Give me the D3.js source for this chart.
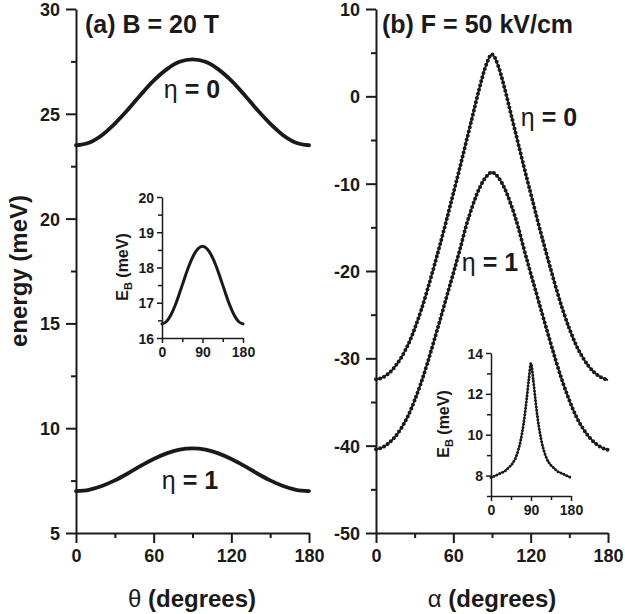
<!DOCTYPE html>
<html>
<head>
<meta charset="utf-8">
<script src="https://cdn.jsdelivr.net/npm/d3@7"></script>
<style>
  html, body { margin: 0; padding: 0; background: #fff; }
  svg { display: block; }
  text { font-family: "Liberation Sans", Arial, sans-serif; fill: #1a1a1a; }
</style>
</head>
<body>
<svg id="chart" width="625" height="614"></svg>
<script>
// ---------------- data ----------------
// Panel (a): B = 20 T, energy vs theta
const anglesA = [0,10,20,30,40,50,60,70,80,90,100,110,120,130,140,150,160,170,180];
const aEta0 = [23.5,23.62,23.98,24.53,25.19,25.91,26.58,27.12,27.48,27.6,27.48,27.12,26.58,25.91,25.19,24.53,23.98,23.62,23.5];
const aEta1 = [7.0,7.06,7.24,7.51,7.84,8.2,8.53,8.8,8.98,9.04,8.98,8.8,8.53,8.2,7.84,7.51,7.24,7.06,7.0];
const aInsetEB = [16.4,16.47,16.66,16.95,17.31,17.69,18.05,18.34,18.53,18.6,18.53,18.34,18.05,17.69,17.31,16.95,16.66,16.47,16.4];

// Panel (b): F = 50 kV/cm, energy vs alpha
const anglesB = [0,5,10,15,20,25,30,35,40,45,50,55,60,65,70,75,80,85,90,95,100,105,110,115,120,125,130,135,140,145,150,155,160,165,170,175,180];
const bEta0 = [-32.4,-32.2,-31.7,-30.9,-29.8,-28.4,-26.6,-24.5,-22.1,-19.5,-16.8,-14.0,-11.1,-8.2,-5.2,-2.2,0.8,3.4,4.8,
               3.4,0.8,-2.2,-5.2,-8.2,-11.1,-14.0,-16.8,-19.5,-22.1,-24.5,-26.6,-28.4,-29.8,-30.9,-31.7,-32.2,-32.5];
const bEta1 = [-40.4,-40.2,-39.7,-38.95,-37.9,-36.55,-34.8,-32.8,-30.5,-28.0,-25.45,-22.85,-20.25,-17.6,-14.8,-12.5,-10.6,-9.3,-8.7,
               -9.3,-10.6,-12.5,-14.8,-17.6,-20.25,-22.85,-25.45,-28.0,-30.5,-32.8,-34.8,-36.55,-37.9,-38.95,-39.7,-40.2,-40.5];
const bInsetEB = [7.9,7.95,8.0,8.05,8.1,8.15,8.2,8.3,8.4,8.5,8.65,8.85,9.15,9.55,10.1,10.8,11.7,12.7,13.5,
                  12.7,11.7,10.8,10.1,9.55,9.15,8.85,8.65,8.5,8.4,8.3,8.2,8.15,8.1,8.05,8.0,7.95,7.9];

// tick values
const xMajor = [0,60,120,180], xMinor = [30,90,150];
const yMajorA = [5,10,15,20,25,30], yMinorA = [7.5,12.5,17.5,22.5,27.5];
const yMajorB = [-50,-40,-30,-20,-10,0,10], yMinorB = [-45,-35,-25,-15,-5,5];
const insetXMajor = [0,90,180], insetXMinor = [45,135];
const insetAYMajor = [16,17,18,19,20], insetAYMinor = [16.5,17.5,18.5,19.5];
const insetBYMajor = [8,10,12,14], insetBYMinor = [7,9,11,13];

// ---------------- drawing ----------------
const svg = d3.select("#chart");
const INK = "#1a1a1a";

const xA = d3.scaleLinear().domain([0,180]).range([76,309]);
const yA = d3.scaleLinear().domain([5,30]).range([533,9]);
const xB = d3.scaleLinear().domain([0,180]).range([376,608]);
const yB = d3.scaleLinear().domain([-50,10]).range([533,9]);
const xIA = d3.scaleLinear().domain([0,180]).range([162,243]);
const yIA = d3.scaleLinear().domain([16,20]).range([338,197]);
const xIB = d3.scaleLinear().domain([0,180]).range([491,571]);
const yIB = d3.scaleLinear().domain([7,14]).range([496,353]);

const fmt = d => String(d);   // plain hyphen-minus like the original

function styleAxis(g, fontSize, width) {
  g.select(".domain").attr("stroke", INK).attr("stroke-width", width);
  g.selectAll(".tick line").attr("stroke", INK).attr("stroke-width", width);
  g.selectAll(".tick text").attr("fill", INK)
    .style("font-family", '"Liberation Sans", Arial, sans-serif')
    .style("font-weight", "bold").style("font-size", fontSize + "px");
}

function drawAxes(x, y, xMaj, xMin, yMaj, yMin, opt) {
  const x0 = x.range()[0], yb = y.range()[0];
  const gxm = svg.append("g").attr("transform", `translate(0,${yb})`)
    .call(d3.axisBottom(x).tickValues(xMin).tickSize(opt.minor).tickFormat(""));
  gxm.select(".domain").remove();
  styleAxis(gxm, opt.font, opt.w);
  const gym = svg.append("g").attr("transform", `translate(${x0},0)`)
    .call(d3.axisLeft(y).tickValues(yMin).tickSize(opt.minor).tickFormat(""));
  gym.select(".domain").remove();
  styleAxis(gym, opt.font, opt.w);
  const gx = svg.append("g").attr("transform", `translate(0,${yb})`)
    .call(d3.axisBottom(x).tickValues(xMaj).tickSize(opt.major).tickSizeOuter(0).tickPadding(opt.xpad).tickFormat(fmt));
  styleAxis(gx, opt.font, opt.w);
  const gy = svg.append("g").attr("transform", `translate(${x0},0)`)
    .call(d3.axisLeft(y).tickValues(yMaj).tickSize(opt.major).tickSizeOuter(0).tickPadding(opt.ypad).tickFormat(fmt));
  styleAxis(gy, opt.font, opt.w);
  gy.selectAll(".tick text").attr("dy", "0.36em");
}

const mainOpt = {major: 10, minor: 5, font: 18, w: 2, xpad: 6, ypad: 6};
const insetOpt = {major: 5, minor: 4, font: 14, w: 1.5, xpad: 4, ypad: 3};

drawAxes(xA, yA, xMajor, xMinor, yMajorA, yMinorA, mainOpt);
drawAxes(xB, yB, xMajor, xMinor, yMajorB, yMinorB, mainOpt);
drawAxes(xIA, yIA, insetXMajor, insetXMinor, insetAYMajor, insetAYMinor, insetOpt);
drawAxes(xIB, yIB, insetXMajor, insetXMinor, insetBYMajor, insetBYMinor, insetOpt);

function solidLine(xs, ys, x, y, w) {
  const line = d3.line().x((d,i) => x(xs[i])).y(d => y(d)).curve(d3.curveMonotoneX);
  svg.append("path").datum(ys).attr("d", line)
    .attr("fill", "none").attr("stroke", INK).attr("stroke-width", w)
    .attr("stroke-linejoin", "round").attr("stroke-linecap", "round");
}
function dottedLine(xs, ys, x, y, w, dot, gap) {
  const line = d3.line().x((d,i) => x(xs[i])).y(d => y(d)).curve(d3.curveMonotoneX);
  svg.append("path").datum(ys).attr("d", line)
    .attr("fill", "none").attr("stroke", INK).attr("stroke-width", w);
  svg.append("path").datum(ys).attr("d", line)
    .attr("fill", "none").attr("stroke", INK).attr("stroke-width", dot)
    .attr("stroke-linecap", "round").attr("stroke-dasharray", `0 ${gap}`);
}

solidLine(anglesA, aEta0, xA, yA, 3.8);
solidLine(anglesA, aEta1, xA, yA, 3.8);
solidLine(anglesA, aInsetEB, xIA, yIA, 3);

dottedLine(anglesB, bEta0, xB, yB, 1.7, 4.0, 4.3);
dottedLine(anglesB, bEta1, xB, yB, 1.7, 4.0, 4.3);
dottedLine(anglesB, bInsetEB, xIB, yIB, 1.3, 3.0, 3.2);

// ---------------- text ----------------
function label(x, y, txt, size, anchor, rotate) {
  const t = svg.append("text")
    .attr("x", x).attr("y", y)
    .attr("text-anchor", anchor || "start")
    .style("font-size", size + "px")
    .style("font-weight", "bold");
  if (rotate) t.attr("transform", `rotate(${rotate},${x},${y})`);
  t.text(txt);
  return t;
}
function etaLabel(x, y, rest) {
  const t = svg.append("text").attr("x", x).attr("y", y)
    .attr("text-anchor", "middle").style("font-size", "25px").style("font-weight", "bold");
  t.append("tspan").style("font-weight", "normal").text("η");
  t.append("tspan").text(rest);
}

label(85, 33, "(a) B = 20 T", 25);
label(382, 33, "(b) F = 50 kV/cm", 25);

etaLabel(192, 98, " = 0");
etaLabel(190, 489, " = 1");
etaLabel(549, 126, " = 0");
etaLabel(490, 271, " = 1");

const tx1 = svg.append("text").attr("x", 192).attr("y", 607).attr("text-anchor", "middle")
  .style("font-size", "24px").style("font-weight", "bold");
tx1.append("tspan").style("font-weight", "normal").text("θ");
tx1.append("tspan").text(" (degrees)");
const tx2 = svg.append("text").attr("x", 492).attr("y", 607).attr("text-anchor", "middle")
  .style("font-size", "24px").style("font-weight", "bold");
tx2.append("tspan").style("font-weight", "normal").text("α");
tx2.append("tspan").text(" (degrees)");

label(27, 271, "energy (meV)", 24, "middle", -90);

function ebLabel(x, y) {
  const t = svg.append("text").attr("x", x).attr("y", y)
    .attr("text-anchor", "middle")
    .attr("transform", `rotate(-90,${x},${y})`)
    .style("font-size", "16px").style("font-weight", "bold");
  t.append("tspan").text("E");
  t.append("tspan").attr("dy", 4).style("font-size", "11px").text("B");
  t.append("tspan").attr("dy", -4).text(" (meV)");
}
ebLabel(128, 267);
ebLabel(449, 424);
</script>
</body>
</html>
